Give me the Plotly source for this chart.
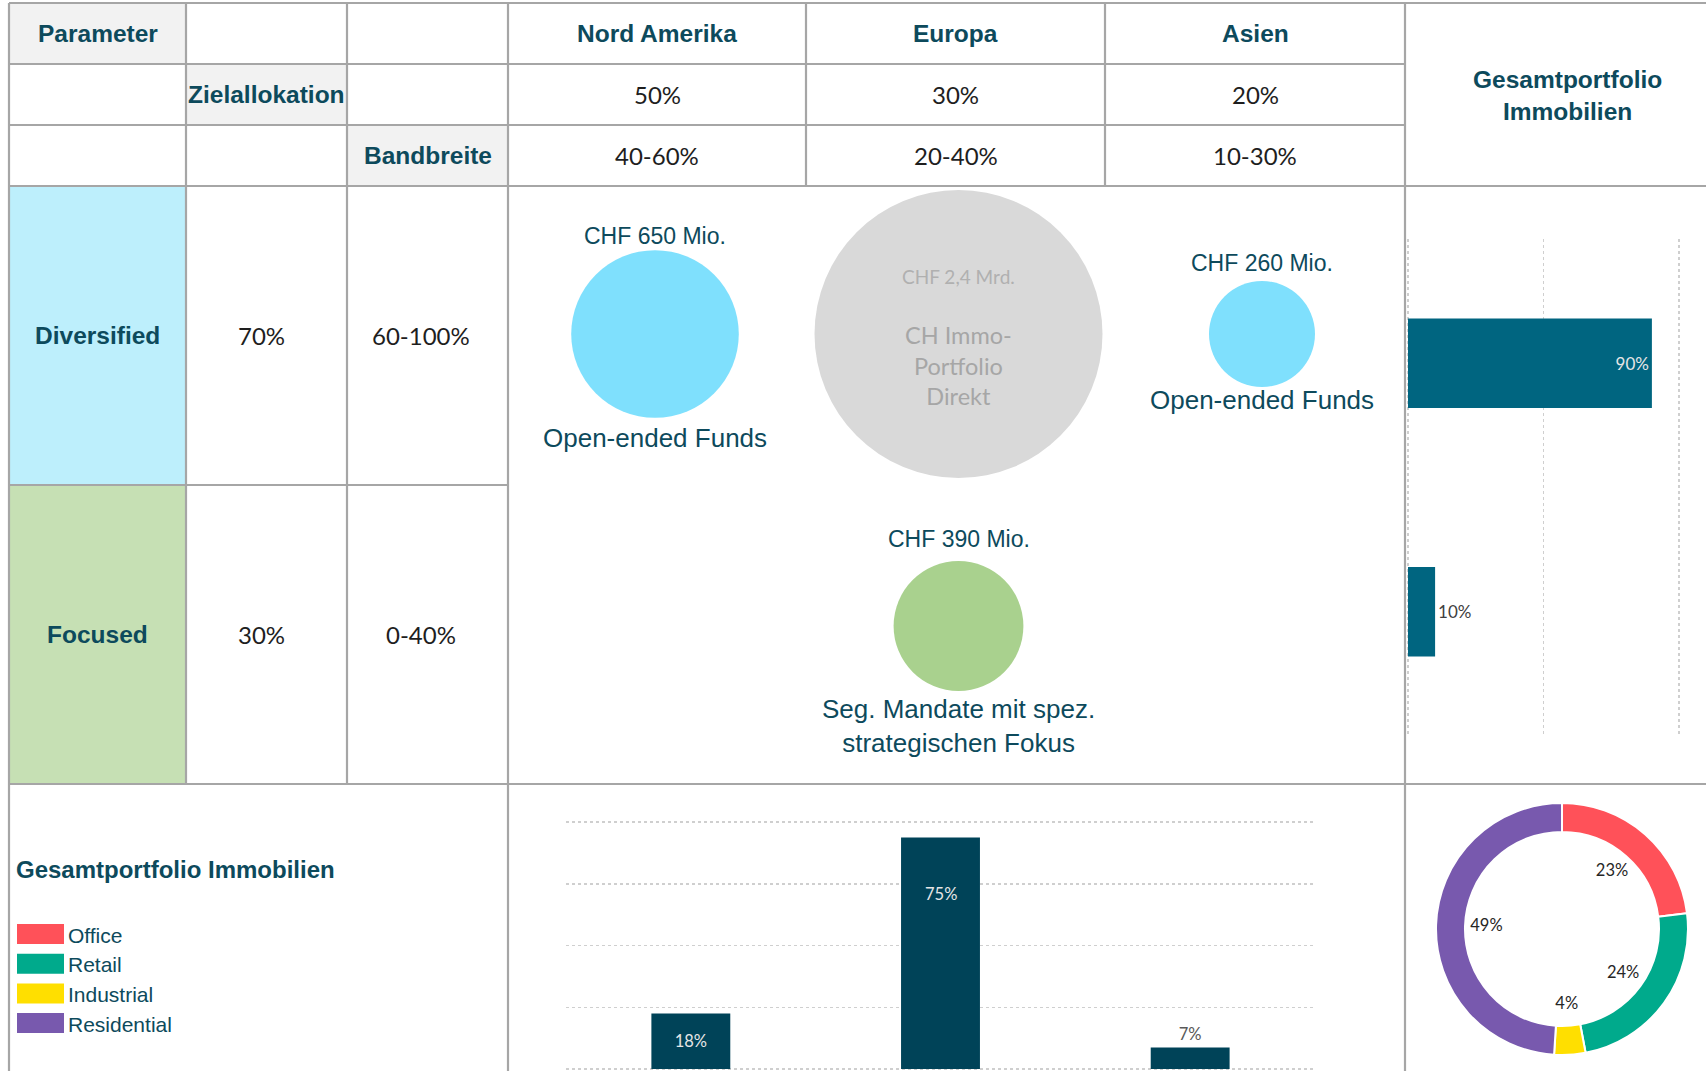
import plotly.graph_objects as go

W, H = 1706, 1071

# ---------------- data ----------------
regions = ["Nord Amerika", "Europa", "Asien"]
region_target = ["50%", "30%", "20%"]
region_band = ["40-60%", "20-40%", "10-30%"]
strategies = ["Diversified", "Focused"]
strategy_target = ["70%", "30%"]
strategy_band = ["60-100%", "0-40%"]
header_param = "Parameter"
header_target = "Zielallokation"
header_band = "Bandbreite"
header_total = "Gesamtportfolio<br>Immobilien"

bubble_region = ["Nord Amerika", "Asien", "Europa"]
bubble_strategy = ["Diversified", "Diversified", "Focused"]
bubble_value_mio = [650, 260, 390]
bubble_amount_label = ["CHF 650 Mio.", "CHF 260 Mio.", "CHF 390 Mio."]
bubble_vehicle = ["Open-ended Funds", "Open-ended Funds",
                  "Seg. Mandate mit spez.<br>strategischen Fokus"]

ch_region = "Europa"
ch_strategy = "Diversified"
ch_value_mio = 2400
ch_amount_label = "CHF 2,4 Mrd."
ch_name = "CH Immo-<br>Portfolio<br>Direkt"

strategy_share = [0.90, 0.10]

region_share_cats = ["Nord Amerika", "Europa", "Asien"]
region_share = [18, 75, 7]

sectors = ["Office", "Retail", "Industrial", "Residential"]
sector_share = [23, 24, 4, 49]
legend_title = "Gesamtportfolio Immobilien"

# ---------------- styles ----------------
TEAL = "#0d4a5c"
GRID = "#a6a6a6"
HEAD_FONT = "Liberation Sans, Arial, sans-serif"
CAL_FONT = "Lato, Open Sans, sans-serif"
HEAD_SIZE = 24.5
NUM_SIZE = 24
sector_colors = ["#ff5159", "#00aa8c", "#ffdf00", "#7859ae"]
strategy_colors = {"Diversified": "#7fe0fd", "Focused": "#a9d18e"}
cell_bg_strategy = {"Diversified": "#bdeffc", "Focused": "#c6e0b4"}
COLX = [9, 186, 347, 508, 806, 1105, 1405, 1706]
ROWY = [3, 64, 125, 186, 485, 784, 1071]
amount_shift = [98, 71, 87]
vehicle_shift = [-104, -66, -100]
CH_SIZE = 288
# bubble grid anchors (pixel centre of first/last category)
BX0, BX2 = 655, 1262
BY0, BY1 = 334, 626


def px(x):
    return x / W


def py(y):
    return 1 - y / H


def cx(i):
    return (COLX[i] + COLX[i + 1]) / 2


def cy(j):
    return (ROWY[j] + ROWY[j + 1]) / 2


shapes = []
annotations = []


def rect(x0, y0, x1, y1, color):
    shapes.append(dict(type="rect", xref="paper", yref="paper", x0=px(x0), x1=px(x1),
                       y0=py(y1), y1=py(y0), fillcolor=color, line_width=0, layer="below"))


def hline(y, x0, x1):
    shapes.append(dict(type="line", xref="paper", yref="paper", x0=px(x0), x1=px(x1),
                       y0=py(y), y1=py(y), line=dict(color=GRID, width=2.2)))


def vline(x, y0, y1):
    shapes.append(dict(type="line", xref="paper", yref="paper", x0=px(x), x1=px(x),
                       y0=py(y0), y1=py(y1), line=dict(color=GRID, width=2.2)))


def text(x, y, s, size, color=TEAL, family=HEAD_FONT, bold=False, xanchor="center"):
    annotations.append(dict(x=px(x), y=py(y), xref="paper", yref="paper", text=s,
                            showarrow=False, xanchor=xanchor, yanchor="middle",
                            font=dict(family=family, size=size, color=color,
                                      weight="bold" if bold else "normal")))


# cell backgrounds
rect(COLX[0], ROWY[0], COLX[1], ROWY[1], "#f2f2f2")
rect(COLX[1], ROWY[1], COLX[2], ROWY[2], "#f2f2f2")
rect(COLX[2], ROWY[2], COLX[3], ROWY[3], "#f2f2f2")
for j, s in enumerate(strategies):
    rect(COLX[0], ROWY[3 + j], COLX[1], ROWY[4 + j], cell_bg_strategy[s])

# grid lines
hline(ROWY[0], COLX[0], COLX[7])
hline(ROWY[1], COLX[0], COLX[6])
hline(ROWY[2], COLX[0], COLX[6])
hline(ROWY[3], COLX[0], COLX[7])
hline(ROWY[4], COLX[0], COLX[3])
hline(ROWY[5], COLX[0], COLX[7])
vline(COLX[0], ROWY[0], ROWY[6])
vline(COLX[1], ROWY[0], ROWY[5])
vline(COLX[2], ROWY[0], ROWY[5])
vline(COLX[3], ROWY[0], ROWY[6])
vline(COLX[4], ROWY[0], ROWY[3])
vline(COLX[5], ROWY[0], ROWY[3])
vline(COLX[6], ROWY[0], ROWY[6])

# header texts
text(cx(0), cy(0), header_param, HEAD_SIZE, bold=True)
text(cx(1), cy(1), header_target, HEAD_SIZE, bold=True)
text(cx(2), cy(2), header_band, HEAD_SIZE, bold=True)
text(1567, 95, header_total, HEAD_SIZE, bold=True)
for i, r in enumerate(regions):
    text(cx(3 + i), cy(0), r, HEAD_SIZE, bold=True)
    text(cx(3 + i), cy(1), region_target[i], NUM_SIZE, color="#1e1e1e", family=CAL_FONT)
    text(cx(3 + i), cy(2), region_band[i], NUM_SIZE, color="#1e1e1e", family=CAL_FONT)
for j, s in enumerate(strategies):
    text(cx(0), cy(3 + j), s, HEAD_SIZE, bold=True)
    text(cx(1) - 5, cy(3 + j), strategy_target[j], NUM_SIZE, color="#1e1e1e", family=CAL_FONT)
    text(cx(2) - 7, cy(3 + j), strategy_band[j], NUM_SIZE, color="#1e1e1e", family=CAL_FONT)

# legend (bottom-left)
text(14, 869, legend_title, 24, bold=True, xanchor="left")
for k, (name, col) in enumerate(zip(sectors, sector_colors)):
    yc = 934 + k * 29.7
    shapes.append(dict(type="rect", xref="paper", yref="paper", x0=px(17), x1=px(64),
                       y0=py(yc + 10), y1=py(yc - 10), fillcolor=col, line_width=0))
    text(66, yc + 1, name, 21, xanchor="left")

fig = go.Figure()

# ---------------- bubbles ----------------
fig.add_trace(go.Scatter(
    x=[ch_region], y=[ch_strategy], xaxis="x4", yaxis="y4", mode="markers",
    marker=dict(size=CH_SIZE, color="#d9d9d9", line_width=0, opacity=1), cliponaxis=False,
    hoverinfo="skip", showlegend=False))
fig.add_trace(go.Scatter(
    x=bubble_region, y=bubble_strategy, xaxis="x4", yaxis="y4", mode="markers",
    marker=dict(size=bubble_value_mio, sizemode="area", sizeref=1 / 21.6, opacity=1,
                color=[strategy_colors[s] for s in bubble_strategy], line_width=0),
    cliponaxis=False, hoverinfo="skip", showlegend=False))

for k in range(len(bubble_region)):
    xi = regions.index(bubble_region[k])
    yi = strategies.index(bubble_strategy[k])
    annotations.append(dict(x=xi, y=yi, xref="x4", yref="y4", text=bubble_amount_label[k],
                            showarrow=False, yshift=amount_shift[k],
                            font=dict(family=HEAD_FONT, size=23, color=TEAL)))
    annotations.append(dict(x=xi, y=yi, xref="x4", yref="y4", text=bubble_vehicle[k],
                            showarrow=False, yshift=vehicle_shift[k],
                            font=dict(family=HEAD_FONT, size=26, color=TEAL)))
chx = regions.index(ch_region)
chy = strategies.index(ch_strategy)
annotations.append(dict(x=chx, y=chy, xref="x4", yref="y4", text=ch_amount_label,
                        showarrow=False, yshift=58,
                        font=dict(family=CAL_FONT, size=19, color="#b0b0b0")))
annotations.append(dict(x=chx, y=chy, xref="x4", yref="y4", text=ch_name,
                        showarrow=False, yshift=-31,
                        font=dict(family=CAL_FONT, size=23.5, color="#a6a6a6")))

# ---------------- right horizontal bars ----------------
fig.add_trace(go.Bar(
    x=strategy_share, y=strategies, orientation="h", xaxis="x2", yaxis="y2",
    marker=dict(color="#006580", line_width=0), width=0.36,
    texttemplate="%{x:.0%}", textposition=["inside", "outside"], insidetextanchor="end",
    insidetextfont=dict(family=CAL_FONT, size=17, color="#e6e6e6"),
    outsidetextfont=dict(family=CAL_FONT, size=17, color="#404040"),
    cliponaxis=False, hoverinfo="skip", showlegend=False))

# ---------------- bottom vertical bars ----------------
big = [i for i, v in enumerate(region_share) if v == max(region_share)]
small = [i for i in range(len(region_share)) if i not in big]
fig.add_trace(go.Bar(
    x=[region_share_cats[i] for i in small], y=[region_share[i] for i in small],
    xaxis="x3", yaxis="y3", marker=dict(color="#004358", line_width=0), width=0.316,
    texttemplate="%{y}%",
    textposition=["inside" if region_share[i] > 10 else "outside" for i in small],
    insidetextanchor="middle",
    insidetextfont=dict(family=CAL_FONT, size=16.5, color="#e6e6e6"),
    outsidetextfont=dict(family=CAL_FONT, size=16.5, color="#595959"),
    cliponaxis=False, hoverinfo="skip", showlegend=False))
fig.add_trace(go.Bar(
    x=[region_share_cats[i] for i in big], y=[region_share[i] for i in big],
    xaxis="x3", yaxis="y3", marker=dict(color="#004358", line_width=0), width=0.316,
    textposition="none", cliponaxis=False, hoverinfo="skip", showlegend=False))
for i in big:
    annotations.append(dict(x=i, y=region_share[i], xref="x3", yref="y3",
                            text=f"{region_share[i]}%", showarrow=False, yshift=-57,
                            font=dict(family=CAL_FONT, size=16.5, color="#e6e6e6")))

# ---------------- donut ----------------
fig.add_trace(go.Pie(
    labels=sectors, values=sector_share, hole=0.77, sort=False, direction="clockwise",
    rotation=0, marker=dict(colors=sector_colors, line=dict(color="white", width=2)),
    textinfo="none", hoverinfo="skip", showlegend=False,
    domain=dict(x=[px(1436), px(1688)], y=[py(1055), py(803)])))

# labels inside the donut hole, placed on a polar scale at each slice's mid angle
cum = 0
mid_theta = []
for v in sector_share:
    mid_theta.append((cum + v / 2) / sum(sector_share) * 360)
    cum += v
fig.add_trace(go.Scatterpolar(
    r=[0.6] * len(sector_share), theta=mid_theta, mode="text",
    text=[f"{v}%" for v in sector_share],
    textfont=dict(family=CAL_FONT, size=16.5, color="#262626"),
    subplot="polar", hoverinfo="skip", showlegend=False))

# axis geometry (pixel positions of value 0 / max, slightly padded so end gridlines show)
hb_px0, hb_px1, hb_pad = 1408, 1679, 0.012
hb_scale = hb_px1 - hb_px0
vb_py0, vb_py80, vb_pad = 1069, 822, 0.45
vb_scale = (vb_py0 - vb_py80) / 80
bx_scale = (BX2 - BX0) / 2
by_scale = BY1 - BY0

hidden = dict(visible=False, fixedrange=True)
fig.update_layout(
    width=W, height=H, margin=dict(l=0, r=0, t=0, b=0),
    paper_bgcolor="white", plot_bgcolor="rgba(0,0,0,0)",
    shapes=shapes, annotations=annotations, showlegend=False, barmode="overlay",
    xaxis=dict(visible=False, domain=[0, 0.01]),
    yaxis=dict(visible=False, domain=[0, 0.01]),
    xaxis2=dict(domain=[px(hb_px0 - hb_pad * hb_scale), px(hb_px1 + hb_pad * hb_scale)],
                range=[-hb_pad, 1 + hb_pad], dtick=0.5, tick0=0,
                showgrid=True, gridcolor="#cfcfcf", griddash="dot", gridwidth=1.5,
                zeroline=False, showticklabels=False, ticks="", showline=False,
                anchor="y2", fixedrange=True),
    yaxis2=dict(domain=[py(736), py(239)], type="category", categoryarray=strategies,
                range=[1.5, -0.5], showgrid=False, zeroline=False, showticklabels=False,
                ticks="", showline=False, anchor="x2", fixedrange=True),
    xaxis3=dict(domain=[px(566), px(1315)], type="category", categoryarray=region_share_cats,
                range=[-0.5, 2.5], showgrid=False, zeroline=False, showticklabels=False,
                ticks="", showline=False, anchor="y3", fixedrange=True),
    yaxis3=dict(domain=[py(vb_py0 + vb_pad * vb_scale), py(vb_py80 - vb_pad * vb_scale)],
                range=[-vb_pad, 80 + vb_pad], dtick=20, tick0=0,
                showgrid=True, gridcolor="#cfcfcf", griddash="dot", gridwidth=1.5,
                zeroline=False, showticklabels=False, ticks="", showline=False,
                anchor="x3", fixedrange=True),
    xaxis4=dict(domain=[px(COLX[3]), px(COLX[6])], type="category", categoryarray=regions,
                range=[-(BX0 - COLX[3]) / bx_scale, 2 + (COLX[6] - BX2) / bx_scale],
                anchor="y4", **hidden),
    yaxis4=dict(domain=[py(ROWY[5]), py(ROWY[3])], type="category", categoryarray=strategies,
                range=[1 + (ROWY[5] - BY1) / by_scale, -(BY0 - ROWY[3]) / by_scale],
                anchor="x4", **hidden),
    polar=dict(domain=dict(x=[px(1436), px(1688)], y=[py(1055), py(803)]),
               bgcolor="rgba(0,0,0,0)",
               radialaxis=dict(visible=False, range=[0, 1]),
               angularaxis=dict(visible=False, direction="clockwise", rotation=90)),
    hovermode=False,
)

fig.write_html("out.html", config={"displayModeBar": False, "staticPlot": True},
               post_script="document.body.style.margin='0px';document.body.style.overflow='hidden';")
